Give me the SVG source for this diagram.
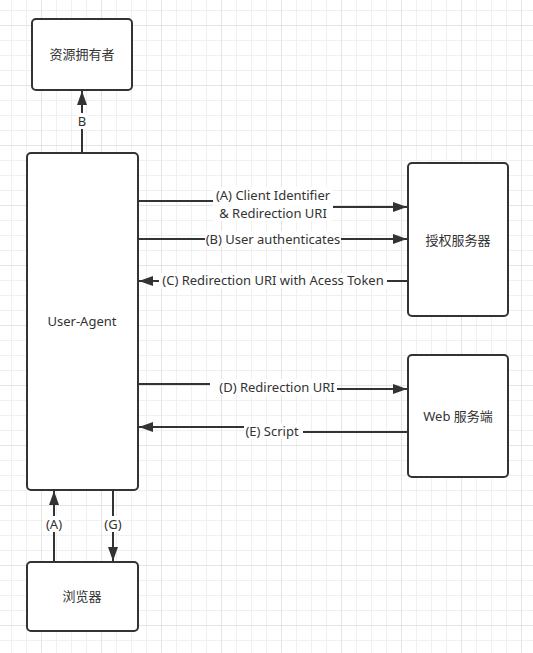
<svg xmlns="http://www.w3.org/2000/svg" width="533" height="653" viewBox="0 0 533 653">
<defs>
<pattern id="grid" x="41" y="25" width="60" height="60" patternUnits="userSpaceOnUse">
<rect x="0" y="0" width="60" height="60" fill="#ffffff"/>
<rect x="15" y="0" width="1" height="60" fill="#f0f0f0"/>
<rect x="30" y="0" width="1" height="60" fill="#f0f0f0"/>
<rect x="45" y="0" width="1" height="60" fill="#f0f0f0"/>
<rect x="0" y="15" width="60" height="1" fill="#f0f0f0"/>
<rect x="0" y="30" width="60" height="1" fill="#f0f0f0"/>
<rect x="0" y="45" width="60" height="1" fill="#f0f0f0"/>
<rect x="0" y="0" width="1" height="60" fill="#e4e4e4"/>
<rect x="0" y="0" width="60" height="1" fill="#e4e4e4"/>
</pattern>
<marker id="arr" markerUnits="userSpaceOnUse" markerWidth="16" markerHeight="12" refX="14" refY="5" orient="auto">
<path d="M0,0 L14,5 L0,10 Z" fill="#333333"/>
</marker>
</defs>
<style>
.box{fill:#ffffff;stroke:#333333;stroke-width:2}
.t{font-family:"Noto Sans","Noto Sans CJK SC",sans-serif;font-size:13px;fill:#333333;text-anchor:middle;dominant-baseline:central}
.ln{fill:none;stroke:#333333;stroke-width:2}
.bg{fill:#ffffff}
</style>
<rect width="533" height="653" fill="url(#grid)"/>

<g id="connectors">
<line class="ln" x1="82" y1="153" x2="82" y2="91" marker-end="url(#arr)"/>
<rect class="bg" x="76" y="113" width="12" height="16"/>
<text class="t" x="82" y="121">B</text>

<path class="ln" d="M138,201 H273 V207 H407" marker-end="url(#arr)"/>
<rect class="bg" x="213" y="187" width="120" height="34"/>
<text class="t" x="273" y="195">(A) Client Identifier</text>
<text class="t" x="273" y="213">&amp; Redirection URI</text>

<line class="ln" x1="138" y1="239" x2="407" y2="239" marker-end="url(#arr)"/>
<rect class="bg" x="205" y="231" width="136" height="16"/>
<text class="t" x="273" y="239">(B) User authenticates</text>

<line class="ln" x1="408" y1="281" x2="139" y2="281" marker-end="url(#arr)"/>
<rect class="bg" x="159" y="273" width="228" height="16"/>
<text class="t" x="273" y="280">(C) Redirection URI with Acess Token</text>

<path class="ln" d="M138,384 H277 V389 H407" marker-end="url(#arr)"/>
<rect class="bg" x="210" y="379" width="127" height="16"/>
<text class="t" x="277" y="387">(D) Redirection URI</text>

<path class="ln" d="M408,432 H272 V427 H139" marker-end="url(#arr)"/>
<rect class="bg" x="244" y="423" width="59" height="16"/>
<text class="t" x="272" y="431">(E) Script</text>

<line class="ln" x1="54" y1="562" x2="54" y2="491" marker-end="url(#arr)"/>
<rect class="bg" x="43" y="516" width="22" height="16"/>
<text class="t" x="54" y="524">(A)</text>

<line class="ln" x1="113" y1="490" x2="113" y2="561" marker-end="url(#arr)"/>
<rect class="bg" x="102" y="516" width="22" height="16"/>
<text class="t" x="113" y="524">(G)</text>
</g>

<g id="owner">
<rect class="box" x="32" y="19" width="100" height="71" rx="4"/>
<text class="t" x="82" y="54">资源拥有者</text>
</g>
<g id="useragent">
<rect class="box" x="27" y="153" width="111" height="337" rx="4"/>
<text class="t" x="82" y="321">User-Agent</text>
</g>
<g id="authserver">
<rect class="box" x="408" y="163" width="100" height="153" rx="4"/>
<text class="t" x="458" y="240">授权服务器</text>
</g>
<g id="webserver">
<rect class="box" x="408" y="355" width="100" height="122" rx="4"/>
<text class="t" x="458" y="416">Web 服务端</text>
</g>
<g id="browser">
<rect class="box" x="27" y="562" width="111" height="69" rx="4"/>
<text class="t" x="82" y="596">浏览器</text>
</g>
</svg>
